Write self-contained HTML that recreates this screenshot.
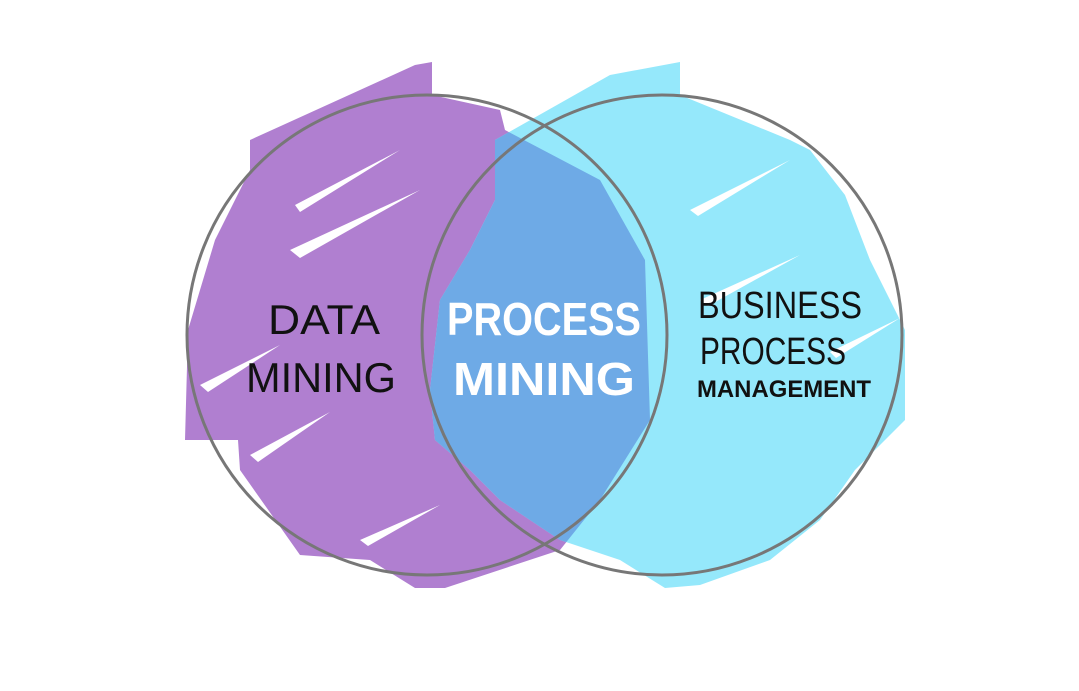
<!DOCTYPE html>
<html><head><meta charset="utf-8"><style>
html,body{margin:0;padding:0;background:#fff;}
svg{display:block}
text{font-family:"Liberation Sans",sans-serif;}
</style></head><body>
<svg width="1079" height="691" viewBox="0 0 1079 691" xmlns="http://www.w3.org/2000/svg">
<defs>
<clipPath id="pc"><polygon points="250,140 415,65 432,62 432,95 500,110 505,130 600,180 645,260 650,420 600,500 560,550 445,588 415,588 370,560 300,555 240,470 238,440 185,440 188,330 215,240 250,170"/></clipPath>
</defs>
<polygon fill="#b07fd0" points="250,140 415,65 432,62 432,95 500,110 505,130 600,180 645,260 650,420 600,500 560,550 445,588 415,588 370,560 300,555 240,470 238,440 185,440 188,330 215,240 250,170"/>
<polygon fill="#95e8fb" points="495,140 610,75 680,62 680,95 790,140 810,150 845,195 870,260 905,330 905,420 855,470 820,520 770,560 700,585 665,588 620,560 560,540 500,500 470,470 435,440 430,390 440,300 470,250 495,200"/>
<polygon clip-path="url(#pc)" fill="#6eaae6" points="495,140 610,75 680,62 680,95 790,140 810,150 845,195 870,260 905,330 905,420 855,470 820,520 770,560 700,585 665,588 620,560 560,540 500,500 470,470 435,440 430,390 440,300 470,250 495,200"/>
<g fill="#fff">
<polygon points="295,205 400,150 300,212"/>
<polygon points="290,250 420,190 300,258"/>
<polygon points="200,385 280,345 208,392"/>
<polygon points="250,455 330,412 258,462"/>
<polygon points="360,540 440,505 368,546"/>
<polygon points="690,210 790,160 698,216"/>
<polygon points="700,300 800,255 708,306"/>
<polygon points="830,352 900,318 836,358"/>
</g>
<circle cx="427" cy="335" r="240" fill="none" stroke="#777" stroke-width="3"/>
<circle cx="662" cy="335" r="240" fill="none" stroke="#777" stroke-width="3"/>
<g fill="#111" font-size="42">
<text x="268" y="334" textLength="112" lengthAdjust="spacingAndGlyphs">DATA</text>
<text x="246" y="392" textLength="150" lengthAdjust="spacingAndGlyphs">MINING</text>
<text x="698" y="318" font-size="38" textLength="164" lengthAdjust="spacingAndGlyphs">BUSINESS</text>
<text x="700" y="364" font-size="38" textLength="146" lengthAdjust="spacingAndGlyphs">PROCESS</text>
<text x="697" y="397" font-size="24" font-weight="bold" textLength="174" lengthAdjust="spacingAndGlyphs">MANAGEMENT</text>
</g>
<g fill="#fff" font-weight="bold" font-size="46">
<text x="447" y="335" textLength="194" lengthAdjust="spacingAndGlyphs">PROCESS</text>
<text x="453" y="395" textLength="182" lengthAdjust="spacingAndGlyphs">MINING</text>
</g>
</svg>
</body></html>
